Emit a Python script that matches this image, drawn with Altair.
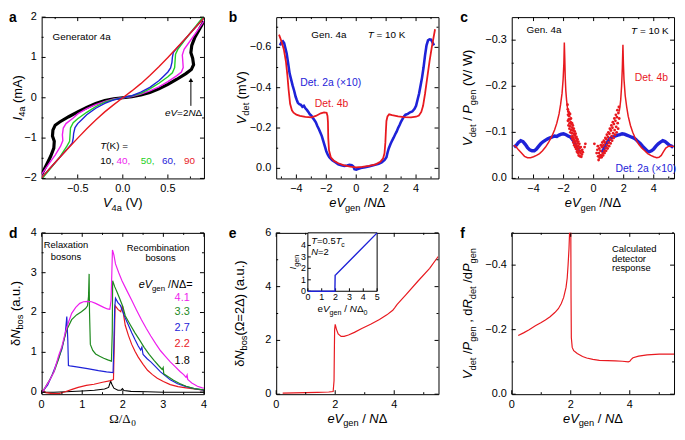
import altair as alt
import pandas as pd

FONT = "Liberation Sans"
SERIF = "Liberation Serif"
W, H = 164, 163
RED = "#E8191F"
BLUE = "#1E22D8"
MAG = "#EE1EEE"
GRN = "#22D022"
DGRN = "#1E8A1E"

# ---------------- panel a : I-V curves ----------------
a_blk_v = [-0.9, -0.85, -0.8, -0.765, -0.76, -0.78, -0.775, -0.75, -0.7, -0.6, -0.5, -0.4, -0.3, -0.2, -0.1, 0,
           0.1, 0.2, 0.3, 0.4, 0.5, 0.6, 0.7, 0.76, 0.785, 0.775, 0.755, 0.765, 0.8, 0.85, 0.9]
a_blk_i = [-1.9, -1.68, -1.45, -1.25, -1.08, -0.95, -0.8, -0.68, -0.6, -0.47, -0.35, -0.24, -0.14, -0.07, -0.025, 0,
           0.025, 0.07, 0.13, 0.22, 0.33, 0.46, 0.6, 0.7, 0.82, 0.98, 1.12, 1.3, 1.5, 1.7, 1.9]
a_mag_v = [-0.9, -0.82, -0.75, -0.69, -0.665, -0.67, -0.66, -0.63, -0.55, -0.5, -0.4, -0.3, -0.2, -0.1, 0,
           0.1, 0.2, 0.3, 0.4, 0.5, 0.6, 0.65, 0.67, 0.665, 0.66, 0.68, 0.75, 0.82, 0.9]
a_mag_i = [-1.9, -1.64, -1.42, -1.2, -1.06, -0.92, -0.75, -0.64, -0.5, -0.4, -0.27, -0.17, -0.09, -0.03, 0,
           0.03, 0.09, 0.17, 0.27, 0.4, 0.55, 0.64, 0.75, 0.92, 1.06, 1.2, 1.42, 1.64, 1.9]
a_grn_v = [-0.9, -0.8, -0.7, -0.62, -0.59, -0.585, -0.58, -0.55, -0.5, -0.4, -0.3, -0.2, -0.1, 0,
           0.1, 0.2, 0.3, 0.4, 0.5, 0.55, 0.575, 0.58, 0.585, 0.61, 0.7, 0.8, 0.9]
a_grn_i = [-2.02, -1.75, -1.47, -1.2, -1.08, -0.92, -0.75, -0.62, -0.52, -0.36, -0.22, -0.11, -0.04, 0,
           0.04, 0.11, 0.22, 0.36, 0.52, 0.62, 0.75, 0.92, 1.08, 1.2, 1.47, 1.75, 2.03]
a_blu_v = [-0.9, -0.8, -0.7, -0.6, -0.56, -0.55, -0.545, -0.53, -0.5, -0.45, -0.4, -0.3, -0.2, -0.1, 0,
           0.1, 0.2, 0.3, 0.4, 0.45, 0.5, 0.53, 0.545, 0.55, 0.56, 0.6, 0.7, 0.8, 0.9]
a_blu_i = [-1.98, -1.73, -1.48, -1.23, -1.12, -1.0, -0.88, -0.74, -0.64, -0.53, -0.42, -0.26, -0.14, -0.05, 0,
           0.05, 0.14, 0.26, 0.42, 0.53, 0.64, 0.74, 0.88, 1.0, 1.12, 1.23, 1.48, 1.73, 1.98]
a_red_v = [-0.9, -0.8, -0.7, -0.6, -0.5, -0.4, -0.3, -0.2, -0.1, 0, 0.1, 0.2, 0.3, 0.4, 0.5, 0.6, 0.7, 0.8, 0.9]
a_red_i = [-1.98, -1.73, -1.48, -1.24, -1.0, -0.77, -0.55, -0.35, -0.17, 0, 0.17, 0.35, 0.55, 0.77, 1.0, 1.24,
           1.48, 1.73, 1.98]
a_temps = ["10,", "40,", "50,", "60,", "90"]
a_temp_x = [-0.25, -0.07, 0.2, 0.435, 0.68]
a_xt, a_xl = [-0.5, 0, 0.5], ["−0.5", "0.0", "0.5"]
a_yt, a_yl = [-2, -1, 0, 1, 2], ["−2", "−1", "0", "1", "2"]

# ---------------- panel b : detector voltage ----------------
b_red_u = [-5.16, -5.0, -4.84, -4.7, -4.6, -4.52, -4.42, -4.3, -4.19, -4.0, -3.76, -3.4, -3.0, -2.7, -2.37, -2.15,
           -1.98, -1.92, -1.89, -1.87, -1.82, -1.7, -1.5, -1.2, -0.86, -0.4, 0, 0.4, 0.86, 1.3, 1.61, 1.8, 1.89,
           1.95, 1.98, 2.02, 2.09, 2.2, 2.4, 2.8, 3.2, 3.66, 4.0, 4.19, 4.35, 4.47, 4.6, 4.73, 4.9, 5.05, 5.27]
b_red_v = [-0.663, -0.63, -0.59, -0.53, -0.46, -0.39, -0.32, -0.288, -0.276, -0.266, -0.26, -0.255, -0.253, -0.26,
           -0.273, -0.278, -0.276, -0.26, -0.23, -0.15, -0.09, -0.055, -0.038, -0.025, -0.016, -0.008, -0.005,
           -0.007, -0.012, -0.02, -0.032, -0.05, -0.075, -0.13, -0.18, -0.235, -0.258, -0.268, -0.264, -0.258,
           -0.254, -0.253, -0.256, -0.262, -0.28, -0.31, -0.37, -0.44, -0.53, -0.6, -0.69]
b_blu_u = [-5.1, -5.0, -4.9, -4.82, -4.75, -4.65, -4.55, -4.45, -4.35, -4.25, -4.15, -4.05, -3.98, -3.9, -3.8,
           -3.7, -3.6, -3.5, -3.4, -3.3, -3.2, -3.1, -3.0, -2.9, -2.8, -2.7, -2.6, -2.5, -2.4, -2.3, -2.2, -2.1,
           -2.0, -1.9, -1.8, -1.6, -1.4, -1.2, -1.0, -0.8, -0.6, -0.45, -0.3, -0.2, -0.12, 0.0, 0.15, 0.3, 0.6,
           0.9, 1.2, 1.5, 1.7, 1.9, 2.02, 2.1, 2.18, 2.3, 2.4, 2.5, 2.6, 2.7, 2.8, 2.9, 3.0, 3.1, 3.2, 3.3, 3.45,
           3.6, 3.75, 3.9, 4.0, 4.1, 4.2, 4.3, 4.4, 4.5, 4.6, 4.7, 4.8, 4.9, 5.0, 5.1, 5.2]
b_blu_v = [-0.61, -0.625, -0.63, -0.622, -0.6, -0.57, -0.52, -0.47, -0.44, -0.41, -0.385, -0.355, -0.34, -0.325,
           -0.318, -0.315, -0.305, -0.31, -0.298, -0.29, -0.28, -0.268, -0.262, -0.25, -0.24, -0.228, -0.21,
           -0.195, -0.178, -0.16, -0.135, -0.11, -0.085, -0.068, -0.055, -0.04, -0.03, -0.02, -0.015, -0.012,
           -0.014, -0.018, -0.016, -0.01, 0.004, 0.006, 0.002, -0.002, -0.006, -0.01, -0.016, -0.022, -0.03,
           -0.042, -0.055, -0.08, -0.1, -0.122, -0.138, -0.152, -0.168, -0.182, -0.2, -0.215, -0.232, -0.245,
           -0.258, -0.266, -0.27, -0.278, -0.282, -0.295, -0.31, -0.34, -0.37, -0.41, -0.45, -0.5, -0.56, -0.61,
           -0.635, -0.64, -0.638, -0.625, -0.61]
b_xt, b_xl = [-4, -2, 0, 2, 4], ["−4", "−2", "0", "2", "4"]
b_yt, b_yl = [0, -0.2, -0.4, -0.6], ["0.0", "−0.2", "−0.4", "−0.6"]

# ---------------- panel c : normalized response ----------------
c_redL_u = [-5.3, -5.15, -5.0, -4.8, -4.6, -4.4, -4.2, -4.0, -3.8, -3.6, -3.4, -3.2, -3.0, -2.8, -2.6, -2.45,
            -2.3, -2.2, -2.1, -2.03, -1.98, -1.95, -1.92, -1.89, -1.85, -1.8, -1.75, -1.7]
c_redL_v = [-0.072, -0.068, -0.062, -0.055, -0.048, -0.045, -0.045, -0.047, -0.05, -0.054, -0.06, -0.068, -0.078,
            -0.09, -0.105, -0.12, -0.14, -0.16, -0.185, -0.215, -0.25, -0.295, -0.26, -0.22, -0.19, -0.17, -0.155,
            -0.145]
c_redR_u = [1.7, 1.75, 1.8, 1.86, 1.91, 1.95, 1.98, 2.02, 2.1, 2.2, 2.3, 2.45, 2.6, 2.8, 3.0, 3.2, 3.4, 3.6,
            3.8, 4.0, 4.2, 4.35, 4.5, 4.65, 4.8, 5.0, 5.2, 5.35]
c_redR_v = [-0.145, -0.155, -0.17, -0.2, -0.24, -0.29, -0.25, -0.215, -0.18, -0.155, -0.135, -0.115, -0.1,
            -0.085, -0.074, -0.066, -0.06, -0.054, -0.05, -0.047, -0.045, -0.046, -0.05, -0.058, -0.066, -0.07,
            -0.07, -0.069]
c_sc_u = [-1.72, -1.70, -1.68, -1.66, -1.63, -1.60, -1.58, -1.56, -1.53, -1.50, -1.48, -1.45, -1.42, -1.40,
          -1.37, -1.34, -1.31, -1.28, -1.25, -1.22, -1.19, -1.16, -1.13, -1.10, -1.07, -1.04, -1.01, -0.97,
          -0.93, -0.88, -0.84, -0.78, -0.72, -0.60, -0.55,
          -1.74, -1.71, -1.67, -1.64, -1.61, -1.57, -1.55, -1.51, -1.47, -1.44, -1.41, -1.38, -1.35, -1.32,
          -1.29, -1.26, -1.23, -1.20, -1.17, -1.14, -1.11, -1.08, -1.05, -1.02, -0.99, -0.95, -0.91, -0.86,
          -0.82, -0.76,
          0.05, 0.25, 0.30, 0.35, 0.40, 0.45, 0.50, 0.55, 0.60, 0.65, 0.70, 0.75, 0.80, 0.85, 0.90, 0.95, 1.00,
          1.05, 1.10, 1.15, 1.20, 1.25, 1.30, 1.35, 1.40, 1.45, 1.50, 1.55, 1.60, 1.65, 1.70,
          0.20, 0.28, 0.33, 0.38, 0.43, 0.48, 0.53, 0.58, 0.63, 0.68, 0.73, 0.78, 0.83, 0.88, 0.93, 0.98, 1.03,
          1.08, 1.13, 1.18, 1.23, 1.28, 1.33, 1.38, 1.43, 1.48, 1.53, 1.58, 1.63, 1.68]
c_sc_v = [-0.150, -0.138, -0.145, -0.128, -0.135, -0.120, -0.128, -0.113, -0.122, -0.105, -0.118, -0.098,
          -0.110, -0.092, -0.104, -0.088, -0.097, -0.083, -0.093, -0.078, -0.088, -0.072, -0.082, -0.066,
          -0.076, -0.062, -0.070, -0.058, -0.066, -0.055, -0.060, -0.052, -0.057, -0.068, -0.075,
          -0.160, -0.125, -0.115, -0.142, -0.108, -0.140, -0.100, -0.130, -0.090, -0.120, -0.085, -0.115,
          -0.078, -0.108, -0.072, -0.102, -0.068, -0.097, -0.064, -0.090, -0.058, -0.085, -0.055, -0.080,
          -0.050, -0.075, -0.048, -0.068, -0.047, -0.062,
          -0.075, -0.062, -0.048, -0.055, -0.045, -0.060, -0.050, -0.068, -0.055, -0.072, -0.060, -0.078,
          -0.066, -0.085, -0.072, -0.090, -0.078, -0.097, -0.085, -0.104, -0.092, -0.110, -0.098, -0.118,
          -0.105, -0.125, -0.112, -0.133, -0.120, -0.142, -0.130,
          -0.055, -0.070, -0.040, -0.065, -0.050, -0.072, -0.046, -0.078, -0.050, -0.082, -0.055, -0.088,
          -0.060, -0.095, -0.065, -0.100, -0.070, -0.108, -0.076, -0.115, -0.082, -0.122, -0.088, -0.130,
          -0.095, -0.138, -0.100, -0.148, -0.108, -0.155]
c_bluL_u = [-5.3, -5.15, -5.0, -4.85, -4.7, -4.55, -4.4, -4.25, -4.1, -3.95, -3.8, -3.65, -3.5, -3.35, -3.2,
            -3.05, -2.9, -2.75, -2.6, -2.45, -2.3, -2.15, -2.0, -1.85, -1.7, -1.55, -1.45, -1.35, -1.25, -1.15,
            -1.05, -0.95]
c_bluL_v = [-0.068, -0.072, -0.078, -0.082, -0.08, -0.074, -0.067, -0.062, -0.06, -0.06, -0.064, -0.07, -0.076,
            -0.08, -0.083, -0.086, -0.088, -0.09, -0.092, -0.091, -0.094, -0.096, -0.097, -0.095, -0.092, -0.09,
            -0.086, -0.082, -0.076, -0.068, -0.062, -0.058]
c_bluR_u = [0.55, 0.65, 0.75, 0.85, 0.95, 1.05, 1.15, 1.3, 1.45, 1.6, 1.75, 1.9, 2.05, 2.2, 2.35, 2.5, 2.65,
            2.8, 2.95, 3.1, 3.25, 3.4, 3.55, 3.7, 3.85, 4.0, 4.15, 4.3, 4.45, 4.6, 4.75, 4.9, 5.05, 5.2, 5.3]
c_bluR_v = [-0.056, -0.062, -0.068, -0.075, -0.08, -0.085, -0.088, -0.09, -0.092, -0.094, -0.095, -0.097,
            -0.096, -0.094, -0.092, -0.09, -0.088, -0.085, -0.08, -0.076, -0.07, -0.065, -0.06, -0.058, -0.06,
            -0.064, -0.07, -0.075, -0.079, -0.082, -0.08, -0.076, -0.072, -0.07, -0.067]
c_xt, c_xl = [-4, -2, 0, 2, 4], ["−4", "−2", "0", "2", "4"]
c_yt, c_yl = [0, -0.1, -0.2, -0.3], ["0.0", "−0.1", "−0.2", "−0.3"]

# ---------------- panel d : boson spectra ----------------
d_mag_x = [0, 0.03, 0.18, 0.3, 0.42, 0.5, 0.58, 0.66, 0.74, 0.84, 0.94, 1.03, 1.13, 1.23, 1.33, 1.43, 1.53, 1.62,
           1.68, 1.71, 1.73, 1.745, 1.78, 1.82, 1.9, 1.98, 2.1, 2.22, 2.34, 2.46, 2.58, 2.69, 2.81, 2.93, 3.05,
           3.17, 3.29, 3.41, 3.5, 3.56, 3.585, 3.6, 3.7, 3.84, 3.96, 4.0]
d_mag_y = [0, 0.02, 0.27, 0.5, 0.92, 1.15, 1.49, 1.75, 1.98, 2.13, 2.23, 2.27, 2.28, 2.27, 2.23, 2.18, 2.13,
           2.09, 2.08, 2.3, 3.0, 3.57, 3.45, 3.22, 3.0, 2.8, 2.55, 2.31, 2.06, 1.82, 1.6, 1.41, 1.22, 1.04, 0.9,
           0.76, 0.64, 0.52, 0.44, 0.37, 0.43, 0.32, 0.23, 0.15, 0.11, 0.1]
d_grn_x = [0, 0.03, 0.22, 0.32, 0.42, 0.52, 0.62, 0.74, 0.86, 0.98, 1.08, 1.13, 1.155, 1.17, 1.18, 1.2, 1.26,
           1.33, 1.43, 1.53, 1.63, 1.72, 1.74, 1.75, 1.8, 1.86, 1.92, 2.0, 2.06, 2.18, 2.3, 2.42, 2.53, 2.65,
           2.77, 2.88, 2.97, 2.995, 3.01, 3.1, 3.25, 3.4, 3.56, 3.76, 4.0]
d_grn_y = [0, 0.02, 0.35, 0.55, 0.84, 1.2, 1.57, 1.82, 1.94, 2.02, 2.1, 2.17, 2.4, 2.97, 2.0, 1.2, 1.05, 0.96,
           0.9, 0.85, 0.81, 0.78, 1.5, 2.8, 2.65, 2.51, 2.36, 2.15, 1.92, 1.7, 1.49, 1.3, 1.12, 0.95, 0.8, 0.67,
           0.57, 0.62, 0.46, 0.4, 0.3, 0.22, 0.15, 0.09, 0.06]
d_blu_x = [0, 0.03, 0.15, 0.26, 0.38, 0.5, 0.58, 0.62, 0.645, 0.66, 0.7, 0.9, 1.13, 1.4, 1.6, 1.76, 1.78, 1.8,
           1.82, 1.88, 1.94, 2.0, 2.06, 2.14, 2.22, 2.3, 2.38, 2.44, 2.47, 2.49, 2.5, 2.6, 2.69, 2.8, 2.93, 3.05,
           3.17, 3.35, 3.56, 3.76, 4.0]
d_blu_y = [0, 0.02, 0.18, 0.44, 0.75, 1.08, 1.45, 1.9, 1.3, 0.67, 0.66, 0.63, 0.59, 0.54, 0.51, 0.49, 1.2, 2.1,
           2.36, 2.25, 2.18, 2.02, 1.86, 1.68, 1.49, 1.32, 1.16, 1.06, 1.13, 1.0, 0.95, 0.84, 0.76, 0.65, 0.51,
           0.41, 0.31, 0.21, 0.14, 0.09, 0.05]
d_red_x = [0, 0.04, 0.1, 0.26, 0.42, 0.58, 0.75, 0.9, 1.1, 1.29, 1.5, 1.7, 1.77, 1.79, 1.81, 1.88, 1.95, 1.99,
           2.01, 2.06, 2.14, 2.22, 2.3, 2.38, 2.5, 2.61, 2.73, 2.85, 3.0, 3.17, 3.36, 3.56, 3.76, 4.0]
d_red_y = [0, 0.05, -0.01, -0.035, -0.035, 0.01, 0.07, 0.12, 0.17, 0.2, 0.25, 0.29, 0.32, 1.2, 2.17, 2.08, 2.02,
           2.18, 2.0, 1.68, 1.42, 1.2, 1.03, 0.88, 0.7, 0.55, 0.44, 0.35, 0.27, 0.19, 0.14, 0.11, 0.08, 0.05]
d_blk_x = [0, 0.3, 0.6, 1.0, 1.3, 1.55, 1.65, 1.7, 1.73, 1.78, 1.88, 1.96, 1.99, 2.03, 2.2, 2.6, 3.0, 4.0]
d_blk_y = [0, 0.0, 0.01, 0.03, 0.05, 0.08, 0.12, 0.28, 0.2, 0.1, 0.05, 0.05, 0.09, 0.04, 0.02, 0.01, 0.0, 0.0]
d_labels = ["4.1", "3.3", "2.7", "2.2", "1.8"]
d_label_y = [2.37, 2.0, 1.6, 1.2, 0.78]
d_xt, d_xl = [0, 1, 2, 3, 4], ["0", "1", "2", "3", "4"]
d_yt, d_yl = [0, 1, 2, 3, 4], ["0", "1", "2", "3", "4"]

# ---------------- panel e : boson number at 2Delta ----------------
e_red_x = [0.22, 0.6, 1.0, 1.4, 1.78, 1.93, 1.96, 1.97, 1.98, 2.0, 2.04, 2.1, 2.2, 2.3, 2.45, 2.65, 2.9, 3.2,
           3.5, 3.75, 3.95, 4.02, 4.1, 4.4, 4.8, 5.2, 5.49]
e_red_y = [0.04, 0.05, 0.06, 0.07, 0.08, 0.1, 0.5, 1.5, 2.4, 2.6, 2.42, 2.24, 2.15, 2.15, 2.2, 2.3, 2.44, 2.6,
           2.78, 2.95, 3.12, 3.22, 3.34, 3.7, 4.2, 4.68, 5.12]
e_in_x = [0, 1.95, 1.97, 2.0, 5.0]
e_in_y = [0, 0, 1.4, 1.42, 5.1]
e_xt, e_xl = [0, 2, 4], ["0", "2", "4"]
e_yt, e_yl = [0, 2, 4, 6], ["0", "2", "4", "6"]
ei_xt, ei_xl = [0, 1, 2, 3, 4, 5], ["0", "1", "2", "3", "4", "5"]
ei_yt, ei_yl = [0, 1, 2, 3, 4], ["0", "1", "2", "3", "4"]

# ---------------- panel f : calculated response ----------------
f_red_x = [0.22, 0.4, 0.59, 0.8, 1.0, 1.14, 1.3, 1.46, 1.58, 1.68, 1.76, 1.84, 1.88, 1.91, 1.94, 1.96, 1.98, 2.0,
           2.01, 2.02, 2.05, 2.1, 2.22, 2.4, 2.54, 2.75, 2.97, 3.25, 3.51, 3.75, 3.95, 4.0, 4.05, 4.11, 4.3,
           4.59, 5.0, 5.5]
f_red_y = [-0.182, -0.19, -0.2, -0.212, -0.222, -0.23, -0.24, -0.253, -0.265, -0.281, -0.3, -0.331, -0.36,
           -0.401, -0.45, -0.5, -0.56, -0.56, -0.3, -0.175, -0.145, -0.135, -0.126, -0.117, -0.112, -0.108,
           -0.105, -0.104, -0.103, -0.102, -0.1, -0.102, -0.108, -0.113, -0.118, -0.122, -0.124, -0.124]
f_xt, f_xl = [0, 2, 4], ["0", "2", "4"]
f_yt, f_yl = [0, -0.2, -0.4], ["0.0", "−0.2", "−0.4"]

# ---------------- helpers ----------------
CW = {' ': 278, '(': 333, ')': 333, ',': 278, '-': 333, '.': 278, '/': 278, '=': 584, 'A': 667, 'C': 722,
      'D': 722, 'G': 778, 'I': 278, 'K': 667, 'N': 722, 'P': 667, 'R': 722, 'T': 611, 'V': 667, 'W': 944,
      'a': 556, 'b': 556, 'c': 500, 'd': 556, 'e': 556, 'g': 556, 'i': 222, 'l': 222, 'm': 833, 'n': 556,
      'o': 556, 'r': 333, 's': 500, 't': 278, 'u': 556, 'x': 500, 'Δ': 668, 'Ω': 768, 'δ': 556, '×': 584,
      '−': 584}
for _d in "0123456789":
    CW[_d] = 556

ONE = pd.DataFrame({"k": [0]})


def tw(s, size):
    return sum(CW.get(ch, 556) for ch in s) * size / 1000.0


def rich(segs, x, y, size=13, angle=0, anchor="middle", color="black", font=FONT):
    sub = 0.72
    sizes = [size * sub if "s" in st else size for _, st in segs]
    widths = [tw(t, fs) for (t, _), fs in zip(segs, sizes)]
    tot = sum(widths)
    pos = {"middle": -tot / 2, "start": 0, "end": -tot}[anchor]
    out = []
    for (t, st), fs, w in zip(segs, sizes, widths):
        lead = len(t) - len(t.lstrip(" "))
        core = t.strip(" ")
        if core:
            out.append(alt.Chart(ONE).mark_text(
                text=core, font=font, fontSize=fs, fontStyle="italic" if "i" in st else "normal",
                align="left", baseline="alphabetic", angle=angle, dx=pos + tw(" " * lead, fs),
                dy=size * 0.28 if "s" in st else 0, color=color).encode(x=x, y=y))
        pos += w
    return out


def txt(t, x, y, size=10, color="black", align="left", baseline="middle"):
    return alt.Chart(ONE).mark_text(text=t, font=FONT, fontSize=size, color=color, align=align,
                                    baseline=baseline).encode(x=x, y=y)


def line(xv, yv, color, sw, xs, ys):
    df = pd.DataFrame({"x": xv, "y": yv, "i": list(range(len(xv)))})
    return alt.Chart(df).mark_line(color=color, strokeWidth=sw, clip=True).encode(
        x=alt.X("x:Q", scale=xs, axis=None), y=alt.Y("y:Q", scale=ys, axis=None),
        order=alt.Order("i:Q"))


def ticks(xs, ys, xmaj, xmin, ymaj, ymin, w, h):
    out = []
    for vals, ln in ((xmaj, 4), (xmin, 2)):
        df = pd.DataFrame({"t": vals})
        X = alt.X("t:Q", scale=xs, axis=None)
        out.append(alt.Chart(df).mark_rule(color="black", strokeWidth=1).encode(
            x=X, y=alt.value(h), y2=alt.value(h - ln)))
        out.append(alt.Chart(df).mark_rule(color="black", strokeWidth=1).encode(
            x=X, y=alt.value(0), y2=alt.value(ln)))
    for vals, ln in ((ymaj, 4), (ymin, 2)):
        df = pd.DataFrame({"t": vals})
        Y = alt.Y("t:Q", scale=ys, axis=None)
        out.append(alt.Chart(df).mark_rule(color="black", strokeWidth=1).encode(
            y=Y, x=alt.value(0), x2=alt.value(ln)))
        out.append(alt.Chart(df).mark_rule(color="black", strokeWidth=1).encode(
            y=Y, x=alt.value(w), x2=alt.value(w - ln)))
    return out


def xlabels(vals, labs, xs, ypix, size=11):
    df = pd.DataFrame({"t": vals, "s": labs})
    return alt.Chart(df).mark_text(font=FONT, fontSize=size, align="center", baseline="top",
                                   color="black").encode(
        x=alt.X("t:Q", scale=xs, axis=None), y=alt.value(ypix), text="s:N")


def ylabels(vals, labs, ys, xpix, size=11):
    df = pd.DataFrame({"t": vals, "s": labs})
    return alt.Chart(df).mark_text(font=FONT, fontSize=size, align="right", baseline="middle",
                                   color="black").encode(
        y=alt.Y("t:Q", scale=ys, axis=None), x=alt.value(xpix), text="s:N")


def letter(ch, x):
    return alt.Chart(ONE).mark_text(text=ch, font=FONT, fontSize=14, fontWeight="bold", align="left",
                                    baseline="top").encode(x=alt.value(x), y=alt.value(-6))


def DX(v, s):
    return alt.XDatum(v, scale=s, axis=None)


def DY(v, s):
    return alt.YDatum(v, scale=s, axis=None)


EV_NDELTA = [("e", "i"), ("V", "i"), ("gen", "s"), (" /", "n"), ("N", "i"), ("Δ", "n")]
EV_NDELTA2 = [("e", "i"), ("V", "i"), ("gen", "s"), (" / ", "n"), ("N", "i"), ("Δ", "n")]
XT = H + 29
LX = H + 5

# ---------------- panel a ----------------
xa = alt.Scale(domain=[-0.9, 0.9], nice=False, zero=False)
ya = alt.Scale(domain=[-2, 2], nice=False, zero=False)
pa = [line(a_blk_v, a_blk_i, "black", 3.2, xa, ya),
      line(a_mag_v, a_mag_i, MAG, 1.4, xa, ya),
      line(a_grn_v, a_grn_i, GRN, 1.4, xa, ya),
      line(a_blu_v, a_blu_i, BLUE, 1.4, xa, ya),
      line(a_red_v, a_red_i, RED, 1.4, xa, ya)]
pa += ticks(xa, ya, a_xt, [-0.75, -0.25, 0.25, 0.75], a_yt, [-1.5, -0.5, 0.5, 1.5], W, H)
pa += [xlabels(a_xt, a_xl, xa, LX), ylabels(a_yt, a_yl, ya, -5)]
pa.append(txt("Generator 4a", DX(-0.78, xa), DY(1.5, ya)))
pa += rich([("T", "i"), ("(K) =", "n")], DX(-0.25, xa), DY(-1.27, ya), size=10, anchor="start")
for t, xv, col in zip(a_temps, a_temp_x, ["black", MAG, GRN, BLUE, RED]):
    pa.append(txt(t, DX(xv, xa), DY(-1.58, ya), size=10, color=col))
pa.append(alt.Chart(ONE).mark_rule(color="black", strokeWidth=1).encode(
    x=DX(0.755, xa), y=DY(-0.2, ya), y2=alt.Y2Datum(0.42)))
pa.append(alt.Chart(ONE).mark_point(shape="triangle-up", filled=True, size=22, color="black", opacity=1).encode(
    x=DX(0.755, xa), y=DY(0.44, ya)))
pa += rich([("e", "i"), ("V", "i"), ("=2", "n"), ("N", "i"), ("Δ", "n")], DX(0.88, xa), DY(-0.45, ya),
           size=10, anchor="end")
pa += rich([("V", "i"), ("4a", "s"), (" (V)", "n")], alt.value(W / 2), alt.value(XT))
pa += rich([("I", "i"), ("4a", "s"), (" (mA)", "n")], alt.value(-20), alt.value(H / 2), angle=270)
pa.append(letter("a", -33))
chart_a = alt.layer(*pa).properties(width=W, height=H)

# ---------------- panel b ----------------
xb = alt.Scale(domain=[-5.35, 5.5], nice=False, zero=False)
yb = alt.Scale(domain=[-0.75, 0.05], nice=False, zero=False, reverse=True)
pb = [line(b_blu_u, b_blu_v, BLUE, 2.6, xb, yb),
      line(b_red_u, b_red_v, RED, 1.8, xb, yb)]
pb += ticks(xb, yb, b_xt, [-5, -3, -1, 1, 3, 5], b_yt, [-0.1, -0.3, -0.5, -0.7], W, H)
pb += [xlabels(b_xt, b_xl, xb, LX), ylabels(b_yt, b_yl, yb, -5)]
pb.append(txt("Gen. 4a", DX(-3.0, xb), DY(-0.663, yb)))
pb += rich([("T", "i"), (" = 10 K", "n")], DX(0.77, xb), DY(-0.645, yb), size=10, anchor="start")
pb.append(txt("Det. 2a (×10)", DX(-3.74, xb), DY(-0.425, yb), size=10.5, color=BLUE))
pb.append(txt("Det. 4b", DX(-2.77, xb), DY(-0.32, yb), size=10.5, color=RED))
pb += rich(EV_NDELTA, alt.value(W / 2), alt.value(XT))
pb += rich([("V", "i"), ("det", "s"), (" (mV)", "n")], alt.value(-31), alt.value(H / 2), angle=270)
pb.append(letter("b", -48))
chart_b = alt.layer(*pb).properties(width=W, height=H)

# ---------------- panel c ----------------
xc = alt.Scale(domain=[-5.45, 5.35], nice=False, zero=False)
yc = alt.Scale(domain=[-0.35, 0], nice=False, zero=False, reverse=True)
pc = [line(c_bluL_u, c_bluL_v, BLUE, 3.4, xc, yc),
      line(c_bluR_u, c_bluR_v, BLUE, 3.4, xc, yc),
      line(c_redL_u, c_redL_v, RED, 1.5, xc, yc),
      line(c_redR_u, c_redR_v, RED, 1.5, xc, yc),
      alt.Chart(pd.DataFrame({"u": c_sc_u, "v": c_sc_v})).mark_circle(color=RED, size=8, opacity=1).encode(
          x=alt.X("u:Q", scale=xc, axis=None), y=alt.Y("v:Q", scale=yc, axis=None))]
pc += ticks(xc, yc, c_xt, [-5, -3, -1, 1, 3, 5], c_yt, [-0.05, -0.15, -0.25], W, H)
pc += [xlabels(c_xt, c_xl, xc, LX), ylabels(c_yt, c_yl, yc, -5)]
pc.append(txt("Gen. 4a", DX(-4.47, xc), DY(-0.322, yc)))
pc += rich([("T", "i"), (" = 10 K", "n")], DX(5.0, xc), DY(-0.314, yc), size=10, anchor="end")
pc.append(txt("Det. 4b", DX(2.73, xc), DY(-0.2175, yc), size=10.5, color=RED))
pc.append(txt("Det. 2a (×10)", DX(1.45, xc), DY(-0.021, yc), size=10.5, color=BLUE))
pc += rich(EV_NDELTA, alt.value(W / 2), alt.value(XT))
pc += rich([("V", "i"), ("det", "s"), (" / ", "n"), ("P", "i"), ("gen", "s"), (" (V/ W)", "n")],
           alt.value(-40), alt.value(H / 2), angle=270)
pc.append(letter("c", -52))
chart_c = alt.layer(*pc).properties(width=W, height=H)

# ---------------- panel d ----------------
xd = alt.Scale(domain=[0, 4], nice=False, zero=False)
yd = alt.Scale(domain=[-0.05, 4], nice=False, zero=False)
pd_ = [line(d_blk_x, d_blk_y, "black", 1.1, xd, yd),
       line(d_red_x, d_red_y, RED, 1.2, xd, yd),
       line(d_blu_x, d_blu_y, BLUE, 1.2, xd, yd),
       line(d_grn_x, d_grn_y, DGRN, 1.2, xd, yd),
       line(d_mag_x, d_mag_y, MAG, 1.2, xd, yd)]
pd_ += ticks(xd, yd, d_xt, [0.5, 1.5, 2.5, 3.5], d_yt, [0.5, 1.5, 2.5, 3.5], W, H)
pd_ += [xlabels(d_xt, d_xl, xd, LX), ylabels(d_yt, d_yl, yd, -5)]
pd_.append(txt("Relaxation", DX(0.6, xd), DY(3.7, yd), size=9.5, align="center"))
pd_.append(txt("bosons", DX(0.6, xd), DY(3.4, yd), size=9.5, align="center"))
pd_.append(txt("Recombination", DX(2.87, xd), DY(3.63, yd), size=9.5, align="center"))
pd_.append(txt("bosons", DX(2.93, xd), DY(3.37, yd), size=9.5, align="center"))
pd_ += rich([("e", "i"), ("V", "i"), ("gen", "s"), (" /", "n"), ("N", "i"), ("Δ=", "n")], DX(3.72, xd),
            DY(2.62, yd), size=11, anchor="end")
for t, yv, col in zip(d_labels, d_label_y, [MAG, DGRN, BLUE, RED, "black"]):
    pd_.append(txt(t, DX(3.65, xd), DY(yv, yd), size=11, color=col, align="right"))
pd_ += rich([("Ω/Δ", "n"), ("0", "s")], alt.value(W / 2), alt.value(XT), font=SERIF)
pd_ += rich([("δ", "n"), ("N", "i"), ("bos", "s"), (" (a.u.)", "n")], alt.value(-22), alt.value(H / 2),
            angle=270)
pd_.append(letter("d", -33))
chart_d = alt.layer(*pd_).properties(width=W, height=H)

# ---------------- panel e (with inset) ----------------
xe = alt.Scale(domain=[0, 5.5], nice=False, zero=False)
ye = alt.Scale(domain=[0, 6], nice=False, zero=False)
pe = [line(e_red_x, e_red_y, RED, 1.2, xe, ye)]
pe += ticks(xe, ye, e_xt, [1, 3, 5], e_yt, [1, 3, 5], W, H)
pe += [xlabels(e_xt, e_xl, xe, LX), ylabels(e_yt, e_yl, ye, -5)]
pe += rich(EV_NDELTA2, alt.value(W / 2), alt.value(XT))
pe += rich([("δ", "n"), ("N", "i"), ("bos", "s"), ("(Ω=2Δ) (a.u.)", "n")], alt.value(-33), alt.value(H / 2),
           angle=270)
pe.append(letter("e", -48))

IX0, IX1, IY1 = round(0.197 * W), round(0.621 * W), round(0.362 * H)
pe += rich([("e", "n"), ("V", "i"), ("gen", "s"), (" / ", "n"), ("N", "i"), ("Δ", "n"), ("0", "s")],
           alt.value((IX0 + IX1) / 2), alt.value(IY1 + 21), size=10)
pe += rich([("I", "i"), ("gen", "s")], alt.value(IX0 - 12), alt.value(IY1 / 2), size=10, angle=270)
main_e = alt.layer(*pe)

ixs = alt.Scale(domain=[0, 5], range=[IX0, IX1], nice=False, zero=False)
iys = alt.Scale(domain=[0, 5.1], range=[IY1, 0], nice=False, zero=False)
inset = [alt.Chart(ONE).mark_rect(fill="white", stroke="black", strokeWidth=1).encode(
    x=DX(0, ixs), x2=alt.X2Datum(5), y=DY(0, iys), y2=alt.Y2Datum(5.1))]
inset.append(alt.Chart(pd.DataFrame({"t": ei_xt})).mark_rule(color="black", strokeWidth=1).encode(
    x=alt.X("t:Q", scale=ixs, axis=None), y=alt.value(IY1), y2=alt.value(IY1 - 3)))
inset.append(alt.Chart(pd.DataFrame({"t": ei_yt})).mark_rule(color="black", strokeWidth=1).encode(
    y=alt.Y("t:Q", scale=iys, axis=None), x=alt.value(IX0), x2=alt.value(IX0 + 3)))
inset.append(xlabels(ei_xt, ei_xl, ixs, IY1 + 2, size=9))
inset.append(ylabels(ei_yt, ei_yl, iys, IX0 - 2, size=9))
inset.append(alt.Chart(pd.DataFrame({"x": e_in_x, "y": e_in_y, "i": list(range(len(e_in_x)))})).mark_line(
    color=BLUE, strokeWidth=1.4).encode(
    x=alt.X("x:Q", scale=ixs, axis=None), y=alt.Y("y:Q", scale=iys, axis=None), order=alt.Order("i:Q")))
inset += rich([("T", "i"), ("=0.5", "n"), ("T", "i"), ("c", "s")], DX(0.25, ixs), DY(4.1, iys), size=9.5,
              anchor="start")
inset += rich([("N", "i"), ("=2", "n")], DX(0.25, ixs), DY(3.2, iys), size=9.5, anchor="start")
inset_e = alt.layer(*inset)
chart_e = alt.layer(main_e, inset_e).resolve_scale(x="independent", y="independent").properties(
    width=W, height=H)

# ---------------- panel f ----------------
xf = alt.Scale(domain=[0, 5.5], nice=False, zero=False)
yf = alt.Scale(domain=[-0.5, 0], nice=False, zero=False, reverse=True)
pf = [line(f_red_x, f_red_y, RED, 1.2, xf, yf)]
pf += ticks(xf, yf, f_xt, [1, 3, 5], f_yt, [-0.1, -0.3, -0.5], W, H)
pf += [xlabels(f_xt, f_xl, xf, LX), ylabels(f_yt, f_yl, yf, -5)]
pf.append(txt("Calculated", DX(3.4, xf), DY(-0.45, yf), size=9.5))
pf.append(txt("detector", DX(3.4, xf), DY(-0.42, yf), size=9.5))
pf.append(txt("response", DX(3.4, xf), DY(-0.39, yf), size=9.5))
pf += rich(EV_NDELTA2, alt.value(W / 2), alt.value(XT))
pf += rich([("V", "i"), ("det", "s"), (" /", "n"), ("P", "i"), ("gen", "s"), (" , d", "n"), ("R", "i"),
            ("det", "s"), (" /d", "n"), ("P", "i"), ("gen", "s")], alt.value(-40), alt.value(H / 2), angle=270)
pf.append(letter("f", -52))
chart_f = alt.layer(*pf).properties(width=W, height=H)

chart = alt.concat(chart_a, chart_b, chart_c, chart_d, chart_e, chart_f, columns=3,
                   spacing={"row": 12, "column": 20}, align="each", padding=0).configure_view(
    stroke="black", strokeWidth=1)

chart.save("out.html", embed_options={"renderer": "svg", "actions": False})
